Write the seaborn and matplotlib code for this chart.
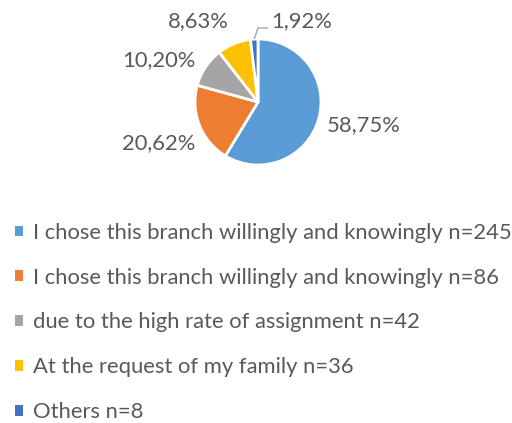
import matplotlib
matplotlib.use("Agg")
import matplotlib.pyplot as plt
from matplotlib.patches import Patch
import numpy as np
import seaborn as sns

# Survey answers: reason for choosing the branch
categories = [
    "I chose this branch willingly and knowingly n=245",
    "I chose this branch willingly and knowingly n=86",
    "due to the high rate of assignment n=42",
    "At the request of my family n=36",
    "Others n=8",
]
shares = [58.75, 20.62, 10.20, 8.63, 1.92]
share_labels = ["58,75%", "20,62%", "10,20%", "8,63%", "1,92%"]

sns.set_theme(style="white")
plt.rcParams["font.family"] = ["Lato", "DejaVu Sans"]

colors = ["#5B9BD5", "#ED7D31", "#A5A5A5", "#FFC000", "#4472C4"]
text_color = "#595959"

W, H = 512, 423
fig = plt.figure(figsize=(W / 100, H / 100), dpi=100)
fig.patch.set_facecolor("white")

# pie axes: centre (258, 102) px from top-left, radius 63 px
cx, cy, r = 258, 102, 63
ax = fig.add_axes([(cx - r) / W, (H - cy - r) / H, 2 * r / W, 2 * r / H])
wedges, _ = ax.pie(
    shares,
    colors=colors,
    startangle=90,
    counterclock=False,
    radius=1.0,
    wedgeprops=dict(edgecolor="white", linewidth=2.0),
)
ax.set_xlim(-1, 1)
ax.set_ylim(-1, 1)
ax.set_aspect("equal")
ax.axis("off")

# percentage labels, placed outside each wedge
label_pos = [(1.67, -0.36), (-1.57, -0.66), (-1.57, 0.67), (-0.94, 1.28), (0.69, 1.28)]
for w, txt, (lx, ly) in zip(wedges, share_labels, label_pos):
    ax.text(lx, ly, txt, ha="center", va="center", fontsize=15.8,
            color=text_color, clip_on=False)

# leader line for the smallest wedge
w = wedges[-1]
mid = np.deg2rad((w.theta1 + w.theta2) / 2)
ex, ey = np.cos(mid), np.sin(mid)
ax.plot([ex, 0.0, 0.16], [ey, 1.175, 1.175], color="#A6A6A6", lw=1.0,
        clip_on=False, solid_capstyle="butt")

handles = [Patch(facecolor=c, edgecolor="none") for c in colors]
fig.legend(
    handles, categories,
    loc="upper left",
    bbox_to_anchor=(6 / W, 1 - 214 / H),
    frameon=False,
    fontsize=15.8,
    labelcolor=text_color,
    handlelength=0.38,
    handleheight=0.38,
    handletextpad=0.45,
    labelspacing=1.13,
    borderaxespad=0,
)

fig.savefig("out.png", dpi=100, facecolor="white")
